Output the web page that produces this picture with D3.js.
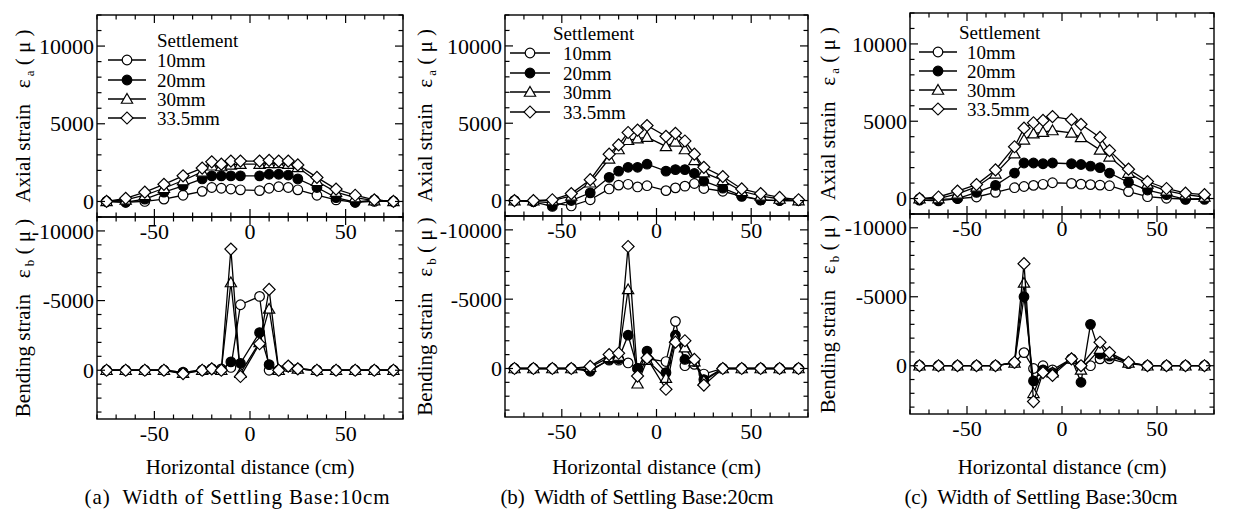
<!DOCTYPE html>
<html><head><meta charset="utf-8">
<script src="https://cdn.jsdelivr.net/npm/d3@7"></script>
<style>
body{margin:0;background:#fff}
svg{display:block}
text{font-family:"Liberation Serif","Times New Roman",serif;fill:#000;white-space:pre}
</style>
</head><body>
<svg id="chart" width="1243" height="512"></svg>
<script>
// ---------- data ----------
const xPositions = [-75,-65,-55,-45,-35,-25,-20,-15,-10,-5,5,10,15,20,25,35,45,55,65,75];
const seriesNames = ["10mm","20mm","30mm","33.5mm"];
const xMajorTicks = [-50,0,50];
const axialTicks = [0,5000,10000];
const bendingTicks = [-10000,-5000,0];
const captions = ["(a)  Width of Settling Base:10cm","(b)  Width of Settling Base:20cm","(c)  Width of Settling Base:30cm"];
const xTitle = "Horizontal distance (cm)";

// Panel (a) width 10cm
const axialA_10  = [0,-50,0,150,400,650,900,850,800,750,700,850,950,900,750,400,100,-50,0,0];
const axialA_20  = [0,-50,150,600,1000,1450,1650,1650,1650,1650,1650,1750,1750,1700,1450,900,250,-50,100,0];
const axialA_30  = [0,100,400,850,1350,1900,2300,2250,2350,2400,2400,2450,2450,2400,2200,1300,600,250,50,0];
const axialA_335 = [0,200,600,1100,1650,2150,2550,2400,2600,2600,2600,2650,2600,2600,2350,1550,800,400,100,0];
const bendA_10  = [0,0,0,0,150,0,-100,-100,-200,-4700,-5300,0,0,-250,-100,0,0,0,0,0];
const bendA_20  = [0,0,0,0,150,0,-100,0,-600,-500,-2700,-400,0,-250,-100,0,0,0,0,0];
const bendA_30  = [0,0,0,0,200,0,-100,0,-6300,200,-2000,-4400,0,-250,-100,0,0,0,0,0];
const bendA_335 = [0,0,0,0,250,0,-100,0,-8700,450,-1900,-5800,0,-300,-100,0,0,0,0,0];

// Panel (b) width 20cm
const axialB_10  = [0,-50,-150,-350,50,750,1000,1050,880,960,640,820,930,1100,780,600,270,30,0,0];
const axialB_20  = [0,-80,-380,0,500,1500,1900,2150,2150,2350,1900,2000,2000,1750,1250,800,300,50,0,0];
const axialB_30  = [0,0,0,300,1150,2700,3300,3900,4000,4100,3500,3800,3300,2600,1800,1300,600,300,100,0];
const axialB_335 = [0,0,50,450,1350,3000,3600,4400,4550,4850,4150,4350,3850,3000,2150,1550,750,450,200,50];
const bendB_10  = [0,0,0,0,100,-600,-600,-400,0,-700,-500,-3400,-200,-300,400,0,0,0,0,0];
const bendB_20  = [0,0,0,0,200,-650,-700,-2400,0,-1250,300,-2400,-650,-500,800,0,0,0,0,0];
const bendB_30  = [0,0,0,0,-100,-800,-900,-5700,1100,-600,700,-2200,-1500,-500,900,0,0,0,0,0];
const bendB_335 = [0,0,0,0,-150,-1000,-1100,-8800,550,-750,1500,-1900,-2000,-650,1200,0,0,0,0,0];

// Panel (c) width 30cm (no reading at x=15 for 30mm and 33.5mm)
const axialC_10  = [0,-50,0,100,400,700,780,850,920,1020,980,930,900,870,830,450,120,20,-30,0];
const axialC_20  = [-100,-150,0,400,850,1650,2300,2300,2250,2300,2250,2200,2100,2000,1650,1050,550,250,-50,-50];
const axialC_30  = [0,0,300,750,1600,2900,3800,4200,4300,4400,4250,3950,null,3150,2700,1650,950,500,250,100];
const axialC_335 = [0,100,480,900,1850,3350,4550,4900,5050,5300,5100,4800,null,3950,3100,1900,1100,650,350,250];
const bendC_10  = [0,0,0,0,0,-200,-950,200,0,300,-500,0,0,-500,-500,-150,0,0,0,0];
const bendC_20  = [0,0,0,0,0,-200,-5000,1100,300,500,-500,1200,-3000,-850,-700,-200,0,0,0,0];
const bendC_30  = [0,0,0,0,0,-200,-6000,2000,400,500,-500,300,null,-1200,-800,-200,0,0,0,0];
const bendC_335 = [0,0,0,0,0,-250,-7400,2600,500,700,-500,0,null,-1700,-950,-250,0,0,0,0];

// ---------- layout ----------
const panels = [
  {left:97, width:306, top:15, mid:217, bottom:419, ylabX:23, capX:237, capW:305,
   axial:[axialA_10,axialA_20,axialA_30,axialA_335], bend:[bendA_10,bendA_20,bendA_30,bendA_335],
   leg:{titleX:157,titleY:40,rows:[60,80,99,118],lx0:108,lx1:146,tx:157}},
  {left:505, width:303, top:15, mid:216, bottom:417, ylabX:425, capX:637, capW:273,
   axial:[axialB_10,axialB_20,axialB_30,axialB_335], bend:[bendB_10,bendB_20,bendB_30,bendB_335],
   leg:{titleX:553,titleY:33,rows:[53,73,92,112],lx0:510,lx1:550,tx:563}},
  {left:910, width:304, top:13, mid:214, bottom:414, ylabX:828, capX:1041, capW:273,
   axial:[axialC_10,axialC_20,axialC_30,axialC_335], bend:[bendC_10,bendC_20,bendC_30,bendC_335],
   leg:{titleX:959,titleY:32,rows:[52,71,90,109],lx0:919,lx1:957,tx:967}}
];

const svg = d3.select("#chart");
const FS_TICK = 22, FS_LEG = 19, FS_TITLE = 21;

function marker(g, kind, x, y){
  if(kind===0||kind===1){
    g.append("circle").attr("cx",x).attr("cy",y).attr("r",4.8)
      .attr("fill",kind===1?"#000":"#fff").attr("stroke","#000").attr("stroke-width",1.2);
  } else if(kind===2){
    g.append("path").attr("d",d3.symbol(d3.symbolTriangle,55)())
      .attr("transform",`translate(${x},${y+1})`).attr("fill","#fff").attr("stroke","#000").attr("stroke-width",1.2);
  } else {
    g.append("path").attr("d",d3.symbol(d3.symbolSquare,72)())
      .attr("transform",`translate(${x},${y}) rotate(45)`).attr("fill","#fff").attr("stroke","#000").attr("stroke-width",1.2);
  }
}

function drawFrame(g, x, y, isTop, yMinorTicks, yMajor, p){
  const [x0,x1] = x.range();
  const yTop = isTop ? p.top : p.mid;
  const yBot = isTop ? p.mid : p.bottom;
  g.append("rect").attr("x",x0).attr("y",yTop).attr("width",x1-x0).attr("height",yBot-yTop)
    .attr("fill","none").attr("stroke","#000").attr("stroke-width",1.4);
  const xt = d3.range(-80,81,10);
  xt.forEach(v=>{
    const len = (v%50===0)?8:4.5;
    const px = x(v);
    g.append("line").attr("x1",px).attr("x2",px).attr("y1",yTop).attr("y2",yTop+len).attr("stroke","#000").attr("stroke-width",1.2);
    g.append("line").attr("x1",px).attr("x2",px).attr("y1",yBot).attr("y2",yBot-len).attr("stroke","#000").attr("stroke-width",1.2);
  });
  yMinorTicks.forEach(v=>{
    const len = yMajor.includes(v)?8:4.5;
    const py = y(v);
    g.append("line").attr("x1",x0).attr("x2",x0+len).attr("y1",py).attr("y2",py).attr("stroke","#000").attr("stroke-width",1.2);
    g.append("line").attr("x1",x1).attr("x2",x1-len).attr("y1",py).attr("y2",py).attr("stroke","#000").attr("stroke-width",1.2);
  });
  yMajor.forEach(v=>{
    g.append("text").attr("x",x0-3).attr("y",y(v)).attr("dy","0.35em").attr("text-anchor","end")
      .attr("font-size",FS_TICK).text(String(v));
  });
  xMajorTicks.forEach(v=>{
    g.append("text").attr("x",x(v)).attr("y",yBot+22).attr("text-anchor","middle")
      .attr("font-size",FS_TICK).text(String(v));
  });
}

function drawSeries(g, x, y, dataArr){
  dataArr.forEach((vals,k)=>{
    const pts = xPositions.map((xv,i)=>[xv,vals[i]]).filter(d=>d[1]!==null);
    g.append("path").attr("d",d3.line().x(d=>x(d[0])).y(d=>y(d[1]))(pts))
      .attr("fill","none").attr("stroke","#000").attr("stroke-width",1.3);
    pts.forEach(d=>marker(g,k,x(d[0]),y(d[1])));
  });
}

panels.forEach((p,pi)=>{
  const g = svg.append("g");
  const x = d3.scaleLinear().domain([-80,80]).range([p.left,p.left+p.width]);
  const yA = d3.scaleLinear().domain([-1000,12000]).range([p.mid,p.top]);
  const yB = d3.scaleLinear().domain([-11000,3500]).range([p.mid,p.bottom]);

  drawSeries(g, x, yA, p.axial);
  drawSeries(g, x, yB, p.bend);
  drawFrame(g, x, yA, true, d3.range(-1000,12001,1000), axialTicks, p);
  drawFrame(g, x, yB, false, d3.range(-11000,3501,1000), bendingTicks, p);

  // legend
  const L = p.leg;
  g.append("text").attr("x",L.titleX).attr("y",L.titleY).attr("dy","0.35em").attr("font-size",FS_LEG).text("Settlement");
  seriesNames.forEach((s,k)=>{
    const ry = L.rows[k];
    g.append("line").attr("x1",L.lx0).attr("x2",L.lx1).attr("y1",ry).attr("y2",ry).attr("stroke","#000").attr("stroke-width",1.3);
    marker(g,k,(L.lx0+L.lx1)/2,ry);
    g.append("text").attr("x",L.tx).attr("y",ry).attr("dy","0.35em").attr("font-size",FS_LEG).text(s);
  });

  // y axis titles (rotated)
  const yMidA = (p.top+p.mid)/2, yMidB = (p.mid+p.bottom)/2;
  const ta = g.append("text").attr("transform",`translate(${p.ylabX},${yMidA}) rotate(-90)`)
    .attr("text-anchor","middle").attr("dy","0.35em").attr("font-size",FS_TITLE);
  ta.append("tspan").text("Axial strain   ε");
  ta.append("tspan").attr("font-size",13).attr("dy",4).text(" a");
  ta.append("tspan").attr("dy",-4).text(" ( μ )");
  const tb = g.append("text").attr("transform",`translate(${p.ylabX},${yMidB}) rotate(-90)`)
    .attr("text-anchor","middle").attr("dy","0.35em").attr("font-size",FS_TITLE);
  tb.append("tspan").text("Bending strain   ε");
  tb.append("tspan").attr("font-size",13).attr("dy",4).text(" b");
  tb.append("tspan").attr("dy",-4).text(" ( μ )");

  // x title and caption
  const cx = p.left + p.width/2;
  g.append("text").attr("x",cx).attr("y",474).attr("text-anchor","middle").attr("font-size",FS_TITLE).text(xTitle);
  g.append("text").attr("x",p.capX).attr("y",504).attr("text-anchor","middle").attr("font-size",FS_TITLE)
    .attr("textLength",p.capW).attr("lengthAdjust","spacing").text(captions[pi]);
});
</script>
</body></html>
